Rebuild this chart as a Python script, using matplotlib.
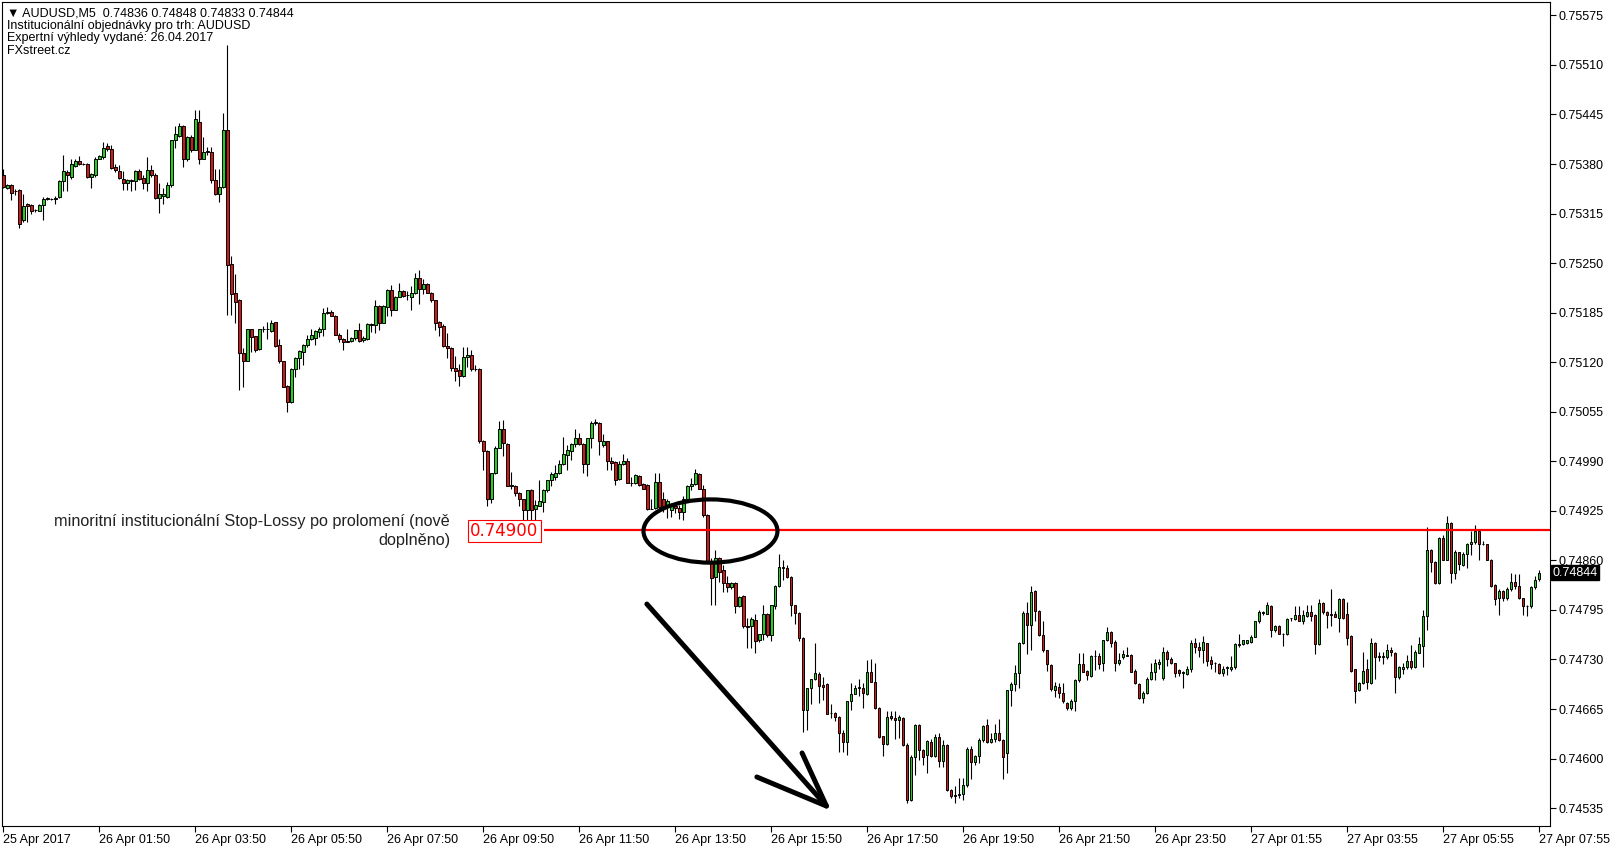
import numpy as np
import matplotlib
matplotlib.use("Agg")
import matplotlib.pyplot as plt
from matplotlib.patches import Ellipse

# AUDUSD M5 svicky, ceny v bodech (1 bod = 0.00001)
opens = [
    75366, 75349, 75352, 75345, 75346, 75306, 75328, 75326, 75320, 75319, 75326, 75336,
    75334, 75334, 75337, 75358, 75369, 75363, 75378, 75384, 75380, 75380, 75363, 75366,
    75387, 75389, 75404, 75400, 75376, 75371, 75361, 75355, 75358, 75358, 75371, 75362,
    75355, 75372, 75365, 75336, 75338, 75337, 75352, 75411, 75417, 75430, 75386, 75416,
    75399, 75435, 75387, 75397, 75396, 75359, 75341, 75350, 75425, 75249, 75211, 75202,
    75132, 75122, 75163, 75154, 75137, 75163, 75163, 75161, 75173, 75142, 75121, 75089,
    75068, 75111, 75125, 75134, 75142, 75151, 75152, 75160, 75163, 75185, 75186, 75181,
    75156, 75151, 75148, 75148, 75152, 75162, 75149, 75151, 75170, 75169, 75194, 75172,
    75193, 75215, 75189, 75206, 75214, 75208, 75206, 75211, 75230, 75216, 75222, 75211,
    75202, 75173, 75168, 75141, 75138, 75113, 75110, 75102, 75127, 75130, 75111, 75111,
    75016, 75003, 74941, 74974, 75008, 75033, 75013, 74959, 74958, 74949, 74940, 74926,
    74952, 74927, 74932, 74936, 74952, 74965, 74969, 74974, 74986, 74998, 75004, 75013,
    75021, 75013, 74986, 75020, 75040, 75040, 75011, 75016, 74990, 74989, 74967, 74986,
    74991, 74962, 74961, 74971, 74960, 74959, 74928, 74929, 74963, 74940, 74931, 74926,
    74932, 74929, 74924, 74941, 74957, 74960, 74973, 74953, 74920, 74858, 74838, 74863,
    74847, 74830, 74825, 74830, 74800, 74813, 74774, 74774, 74782, 74755, 74763, 74790,
    74762, 74800, 74826, 74851, 74850, 74838, 74801, 74791, 74758, 74664, 74692, 74704,
    74711, 74696, 74698, 74660, 74660, 74654, 74634, 74622, 74676, 74685, 74694, 74692,
    74685, 74713, 74700, 74666, 74629, 74619, 74656, 74653, 74650, 74653, 74618, 74546,
    74602, 74644, 74611, 74605, 74622, 74603, 74628, 74597, 74618, 74559, 74552, 74552,
    74554, 74565, 74613, 74596, 74603, 74624, 74644, 74622, 74625, 74633, 74624, 74607,
    74690, 74698, 74712, 74751, 74791, 74775, 74820, 74793, 74762, 74742, 74723, 74690,
    74694, 74686, 74673, 74666, 74676, 74703, 74724, 74715, 74708, 74735, 74735, 74725,
    74755, 74766, 74753, 74725, 74733, 74736, 74736, 74715, 74698, 74679, 74686, 74705,
    74713, 74724, 74706, 74740, 74731, 74725, 74716, 74712, 74711, 74718, 74752, 74747,
    74743, 74751, 74729, 74725, 74724, 74712, 74719, 74718, 74720, 74750, 74750, 74752,
    74753, 74760, 74780, 74791, 74790, 74800, 74768, 74774, 74764, 74763, 74784, 74783,
    74788, 74781, 74787, 74792, 74788, 74750, 74804, 74792, 74788, 74790, 74784, 74809,
    74790, 74761, 74717, 74690, 74699, 74718, 74699, 74752, 74734, 74733, 74733, 74743,
    74739, 74707, 74718, 74720, 74728, 74720, 74739, 74748, 74787, 74874, 74858, 74830,
    74889, 74861, 74909, 74843, 74871, 74854, 74868, 74881, 74884, 74898, 74882, 74881,
    74861, 74828, 74810, 74820, 74811, 74823, 74831, 74827, 74810, 74800, 74800, 74825,
    74836]
highs = [
    75374, 75354, 75354, 75347, 75347, 75341, 75329, 75328, 75321, 75327, 75337, 75337,
    75335, 75338, 75359, 75392, 75372, 75387, 75387, 75390, 75381, 75381, 75368, 75389,
    75392, 75409, 75408, 75405, 75380, 75379, 75371, 75360, 75361, 75372, 75373, 75365,
    75389, 75379, 75368, 75355, 75348, 75357, 75412, 75430, 75434, 75431, 75417, 75418,
    75451, 75451, 75415, 75403, 75403, 75373, 75373, 75447, 75536, 75260, 75236, 75203,
    75138, 75164, 75164, 75155, 75164, 75167, 75173, 75175, 75173, 75150, 75122, 75090,
    75112, 75127, 75136, 75144, 75156, 75163, 75162, 75166, 75191, 75192, 75189, 75182,
    75158, 75152, 75163, 75153, 75162, 75171, 75154, 75172, 75172, 75202, 75195, 75195,
    75216, 75221, 75207, 75224, 75215, 75213, 75220, 75237, 75241, 75229, 75224, 75212,
    75202, 75174, 75170, 75158, 75140, 75128, 75118, 75140, 75140, 75136, 75116, 75112,
    75018, 75005, 74975, 75010, 75043, 75044, 75014, 74976, 74959, 74950, 74941, 74952,
    74953, 74939, 74965, 74953, 74966, 74976, 74985, 74992, 75022, 75011, 75014, 75033,
    75027, 75014, 75021, 75043, 75045, 75041, 75026, 75017, 74995, 74991, 74991, 74999,
    74994, 74970, 74973, 74972, 74961, 74960, 74941, 74974, 74974, 74950, 74941, 74935,
    74935, 74933, 74944, 74959, 74968, 74980, 74975, 74959, 74921, 74863, 74874, 74864,
    74854, 74840, 74832, 74831, 74813, 74815, 74784, 74786, 74790, 74764, 74801, 74791,
    74802, 74828, 74868, 74861, 74854, 74839, 74802, 74792, 74759, 74693, 74704, 74751,
    74713, 74707, 74699, 74672, 74661, 74656, 74637, 74676, 74699, 74696, 74705, 74699,
    74729, 74731, 74725, 74667, 74630, 74663, 74663, 74662, 74657, 74655, 74620, 74605,
    74645, 74645, 74612, 74624, 74625, 74632, 74633, 74624, 74619, 74560, 74564, 74574,
    74574, 74615, 74616, 74604, 74627, 74644, 74652, 74634, 74645, 74652, 74625, 74690,
    74701, 74723, 74753, 74794, 74806, 74826, 74821, 74795, 74780, 74742, 74724, 74700,
    74699, 74699, 74674, 74678, 74705, 74738, 74738, 74716, 74736, 74743, 74739, 74756,
    74773, 74767, 74755, 74738, 74742, 74747, 74737, 74718, 74699, 74688, 74707, 74726,
    74730, 74730, 74746, 74742, 74733, 74726, 74717, 74715, 74721, 74756, 74758, 74753,
    74761, 74752, 74734, 74727, 74725, 74721, 74721, 74734, 74752, 74763, 74756, 74756,
    74762, 74781, 74795, 74794, 74805, 74802, 74775, 74775, 74765, 74784, 74785, 74800,
    74800, 74795, 74801, 74801, 74790, 74809, 74806, 74793, 74822, 74793, 74811, 74810,
    74806, 74762, 74718, 74700, 74740, 74730, 74758, 74753, 74740, 74740, 74750, 74747,
    74740, 74722, 74725, 74736, 74749, 74742, 74759, 74795, 74904, 74875, 74859, 74891,
    74893, 74918, 74910, 74874, 74871, 74871, 74883, 74898, 74906, 74899, 74885, 74882,
    74862, 74829, 74822, 74821, 74825, 74843, 74842, 74842, 74811, 74801, 74826, 74840,
    74848]
lows = [
    75348, 75347, 75333, 75339, 75296, 75304, 75304, 75315, 75317, 75318, 75307, 75333,
    75333, 75328, 75335, 75344, 75345, 75361, 75376, 75379, 75379, 75362, 75348, 75363,
    75386, 75387, 75397, 75374, 75370, 75360, 75346, 75346, 75345, 75346, 75359, 75347,
    75345, 75363, 75334, 75316, 75328, 75336, 75350, 75401, 75416, 75376, 75384, 75396,
    75398, 75380, 75386, 75392, 75355, 75339, 75330, 75349, 75182, 75182, 75172, 75083,
    75088, 75121, 75134, 75134, 75136, 75160, 75150, 75160, 75140, 75119, 75087, 75055,
    75067, 75101, 75111, 75116, 75140, 75149, 75142, 75153, 75154, 75183, 75180, 75156,
    75147, 75136, 75147, 75147, 75149, 75147, 75147, 75149, 75160, 75158, 75162, 75171,
    75180, 75180, 75189, 75205, 75205, 75202, 75188, 75210, 75197, 75210, 75211, 75199,
    75162, 75155, 75140, 75125, 75108, 75096, 75089, 75101, 75114, 75109, 75109, 75014,
    74979, 74931, 74935, 74973, 75007, 74997, 74957, 74953, 74944, 74931, 74902, 74901,
    74909, 74901, 74931, 74923, 74950, 74957, 74965, 74973, 74985, 74978, 74992, 75009,
    75011, 74974, 74971, 75008, 75038, 74998, 75009, 74979, 74978, 74959, 74965, 74985,
    74961, 74957, 74960, 74957, 74953, 74926, 74927, 74928, 74926, 74924, 74915, 74917,
    74922, 74914, 74913, 74939, 74952, 74959, 74953, 74917, 74857, 74801, 74801, 74832,
    74819, 74819, 74822, 74791, 74799, 74771, 74745, 74745, 74738, 74753, 74755, 74760,
    74754, 74796, 74825, 74834, 74837, 74787, 74777, 74754, 74635, 74638, 74672, 74703,
    74673, 74677, 74658, 74653, 74649, 74608, 74608, 74604, 74664, 74685, 74682, 74666,
    74684, 74700, 74665, 74627, 74603, 74618, 74651, 74625, 74627, 74617, 74542, 74544,
    74578, 74598, 74592, 74581, 74602, 74602, 74589, 74589, 74558, 74548, 74542, 74548,
    74546, 74563, 74573, 74591, 74594, 74622, 74621, 74621, 74622, 74623, 74573, 74581,
    74669, 74689, 74693, 74750, 74737, 74742, 74780, 74761, 74740, 74715, 74689, 74681,
    74679, 74673, 74664, 74664, 74662, 74701, 74713, 74703, 74707, 74716, 74718, 74715,
    74754, 74746, 74715, 74723, 74731, 74734, 74713, 74698, 74678, 74673, 74685, 74703,
    74703, 74718, 74703, 74721, 74724, 74707, 74708, 74692, 74710, 74714, 74738, 74733,
    74725, 74721, 74718, 74713, 74711, 74708, 74710, 74715, 74718, 74747, 74749, 74750,
    74752, 74759, 74778, 74788, 74789, 74759, 74766, 74763, 74748, 74762, 74781, 74782,
    74780, 74777, 74786, 74780, 74737, 74749, 74790, 74771, 74774, 74786, 74766, 74783,
    74749, 74714, 74673, 74689, 74698, 74691, 74698, 74705, 74728, 74724, 74731, 74734,
    74686, 74705, 74711, 74718, 74718, 74719, 74738, 74720, 74769, 74845, 74829, 74829,
    74860, 74860, 74830, 74836, 74847, 74852, 74850, 74867, 74882, 74860, 74880, 74860,
    74825, 74801, 74788, 74807, 74808, 74820, 74822, 74809, 74788, 74787, 74797, 74822,
    74833]
closes = [
    75350, 75352, 75342, 75344, 75301, 75325, 75325, 75319, 75320, 75326, 75334, 75334,
    75334, 75336, 75358, 75371, 75365, 75380, 75384, 75380, 75380, 75363, 75367, 75387,
    75390, 75401, 75400, 75375, 75372, 75362, 75355, 75359, 75359, 75371, 75361, 75355,
    75372, 75365, 75336, 75341, 75341, 75352, 75411, 75419, 75430, 75386, 75416, 75399,
    75439, 75387, 75396, 75396, 75359, 75341, 75350, 75425, 75247, 75210, 75199, 75132,
    75121, 75163, 75153, 75136, 75163, 75163, 75163, 75172, 75141, 75121, 75088, 75068,
    75111, 75126, 75135, 75143, 75151, 75156, 75161, 75164, 75185, 75186, 75181, 75156,
    75151, 75147, 75147, 75152, 75162, 75148, 75152, 75170, 75169, 75194, 75172, 75194,
    75215, 75189, 75206, 75214, 75207, 75208, 75211, 75230, 75216, 75222, 75211, 75201,
    75172, 75166, 75141, 75138, 75113, 75108, 75102, 75127, 75130, 75111, 75111, 75016,
    75003, 74941, 74974, 75008, 75033, 75014, 74958, 74957, 74949, 74940, 74926, 74952,
    74926, 74933, 74938, 74952, 74965, 74973, 74975, 74986, 74999, 75005, 75013, 75021,
    75013, 74986, 75020, 75040, 75042, 75016, 75016, 74990, 74988, 74966, 74986, 74991,
    74962, 74962, 74972, 74959, 74954, 74928, 74928, 74963, 74930, 74931, 74938, 74931,
    74929, 74924, 74941, 74957, 74960, 74974, 74953, 74920, 74858, 74837, 74863, 74845,
    74830, 74825, 74830, 74800, 74812, 74774, 74773, 74783, 74754, 74763, 74790, 74762,
    74801, 74826, 74851, 74850, 74838, 74801, 74791, 74758, 74664, 74692, 74704, 74712,
    74695, 74694, 74659, 74660, 74654, 74634, 74622, 74675, 74685, 74693, 74693, 74686,
    74713, 74700, 74666, 74628, 74619, 74655, 74653, 74650, 74654, 74618, 74546, 74602,
    74644, 74611, 74602, 74623, 74603, 74628, 74597, 74618, 74559, 74551, 74551, 74554,
    74565, 74612, 74596, 74603, 74624, 74643, 74622, 74625, 74633, 74624, 74602, 74690,
    74698, 74712, 74751, 74791, 74775, 74819, 74793, 74762, 74742, 74724, 74691, 74695,
    74686, 74675, 74666, 74676, 74703, 74724, 74714, 74709, 74735, 74735, 74724, 74756,
    74766, 74751, 74725, 74729, 74737, 74734, 74714, 74699, 74679, 74686, 74705, 74713,
    74726, 74727, 74740, 74731, 74725, 74712, 74712, 74713, 74718, 74752, 74747, 74743,
    74753, 74728, 74724, 74725, 74712, 74718, 74720, 74720, 74750, 74749, 74755, 74755,
    74760, 74780, 74792, 74792, 74801, 74768, 74774, 74764, 74763, 74783, 74784, 74788,
    74781, 74788, 74792, 74787, 74750, 74804, 74792, 74788, 74790, 74786, 74809, 74784,
    74758, 74715, 74689, 74699, 74715, 74700, 74752, 74733, 74733, 74734, 74742, 74740,
    74707, 74720, 74720, 74728, 74720, 74740, 74750, 74787, 74874, 74858, 74830, 74889,
    74861, 74909, 74843, 74871, 74855, 74868, 74882, 74884, 74898, 74882, 74882, 74861,
    74826, 74809, 74820, 74811, 74823, 74831, 74826, 74810, 74800, 74800, 74825, 74834,
    74844]

tick_labels = ["25 Apr 2017", "26 Apr 01:50", "26 Apr 03:50", "26 Apr 05:50",
               "26 Apr 07:50", "26 Apr 09:50", "26 Apr 11:50", "26 Apr 13:50",
               "26 Apr 15:50", "26 Apr 17:50", "26 Apr 19:50", "26 Apr 21:50",
               "26 Apr 23:50", "27 Apr 01:55", "27 Apr 03:55", "27 Apr 05:55",
               "27 Apr 07:55"]
price_ticks = [0.74535, 0.74600, 0.74665, 0.74730, 0.74795, 0.74860, 0.74925,
               0.74990, 0.75055, 0.75120, 0.75185, 0.75250, 0.75315, 0.75380,
               0.75445, 0.75510, 0.75575]
level = 0.74900

header = ["\u25bc AUDUSD,M5  0.74836 0.74848 0.74833 0.74844",
          "Institucionální objednávky pro trh: AUDUSD",
          "Expertní výhledy vydané: 26.04.2017",
          "FXstreet.cz"]
poznamka = "minoritní institucionální Stop-Lossy po prolomení (nově\ndoplněno)"

o = np.array(opens) / 1e5
h = np.array(highs) / 1e5
l = np.array(lows) / 1e5
c = np.array(closes) / 1e5
x = np.arange(len(o))

W, H = 1610, 852
fig = plt.figure(figsize=(W / 100, H / 100), dpi=100)
ax = fig.add_axes([2 / W, 1 - 826 / H, 1548 / W, 824 / H])

ax.vlines(x, l, h, color="black", linewidth=0.8, zorder=2)
barvy = np.where(c > o, "#1ed21e", np.where(c < o, "#d81414", "black"))
ax.bar(x, np.abs(c - o), bottom=np.minimum(o, c), width=0.62, color=barvy,
       edgecolor="black", linewidth=0.7, zorder=3)

ax.set_xlim(-0.33, 386.7)
ax.set_ylim(0.745115, 0.755926)

ax.yaxis.tick_right()
ax.set_yticks(price_ticks)
ax.set_yticklabels([f"{p:.5f}" for p in price_ticks])
ax.set_xticks(np.arange(len(tick_labels)) * 24)
ax.set_xticklabels(tick_labels, ha="left")
ax.tick_params(axis="both", length=4, width=0.8, labelsize=9, pad=2,
               direction="out")
for t in ax.get_yticklabels() + ax.get_xticklabels():
    t.set_fontfamily("Liberation Sans")
for s in ax.spines.values():
    s.set_linewidth(0.8)

# cervena uroven
ax.hlines(level, 135.2, 386.7, color="red", linewidth=1.6, zorder=5)
ax.text(125.3, 0.748992, "0.74900", color="red", fontsize=12, ha="center",
        va="center", zorder=6,
        bbox=dict(facecolor="white", edgecolor="red", linewidth=0.8, pad=1.5))
ax.text(111.7, 0.748985, poznamka, fontsize=11.7, family="Liberation Sans",
        color="#222222", ha="right", va="center", multialignment="right",
        linespacing=1.35, zorder=6)

# rucne kreslena elipsa a sipka
ax.add_patch(Ellipse((176.8, 0.748985), 33.5, 0.00083, fill=False,
                     edgecolor="black", linewidth=3, zorder=7))
ax.plot([160.9, 205.8], [0.748027, 0.745377], color="black", linewidth=3.6,
        solid_capstyle="round", zorder=7)
ax.plot([188.4, 205.8, 199.7], [0.745758, 0.745377, 0.746073], color="black",
        linewidth=3.6, solid_capstyle="round", solid_joinstyle="round", zorder=7)

# aktualni cena
ax.text(1.0015, c[-1], f"{c[-1]:.5f}", transform=ax.get_yaxis_transform(),
        color="white", fontsize=9, family="Liberation Sans", ha="left",
        va="center", bbox=dict(facecolor="black", edgecolor="black", pad=1.0),
        clip_on=False, zorder=8)

for k, radek in enumerate(header):
    fig.text(7 / W, 1 - (8 + 12.2 * k) / H, radek, fontsize=9,
             family="Liberation Sans", va="top", ha="left")

fig.savefig("out.png", dpi=100)
